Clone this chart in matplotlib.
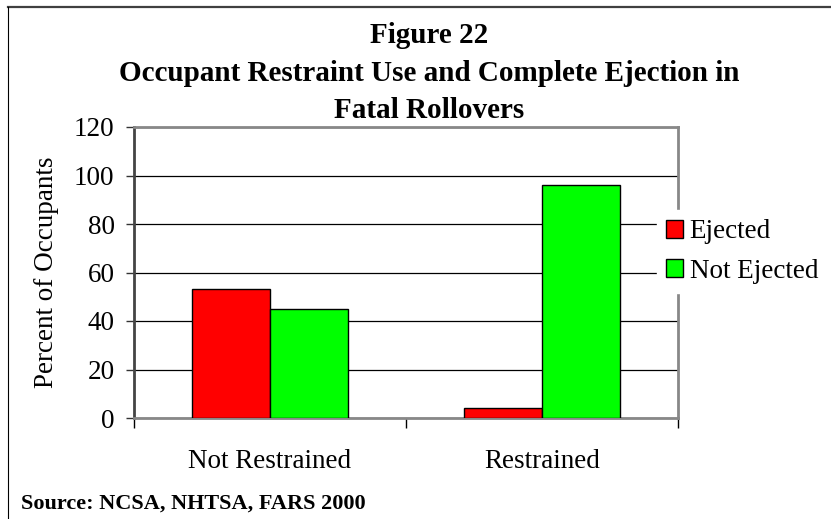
import matplotlib
matplotlib.use("Agg")
import matplotlib.pyplot as plt
from matplotlib.lines import Line2D
import numpy as np

plt.rcParams['font.family'] = ['Liberation Serif', 'DejaVu Serif']

categories = ["Not Restrained", "Restrained"]
ejected = [53, 4]
not_ejected = [45, 96]
series_names = ["Ejected", "Not Ejected"]
yticks = [0, 20, 40, 60, 80, 100, 120]

W, H = 831, 519
fig = plt.figure(figsize=(W / 100, H / 100), dpi=100)

# plot area in pixel coordinates
left, right, top, bottom = 134, 678, 127, 418
ax = fig.add_axes([left / W, 1 - bottom / H, (right - left) / W, (bottom - top) / H])

x = np.arange(len(categories))
bw = 0.285
ax.bar(x - bw / 2, ejected, bw, color='#ff0000', edgecolor='black', linewidth=1,
       label=series_names[0], zorder=3)
ax.bar(x + bw / 2, not_ejected, bw, color='#00ff00', edgecolor='black', linewidth=1,
       label=series_names[1], zorder=3)

ax.set_xlim(-0.5, len(categories) - 0.5)
ax.set_ylim(0, 120)
ax.set_yticks(yticks)
ax.yaxis.grid(True, color='black', linewidth=0.9, zorder=1)
ax.set_axisbelow(True)

ax.set_xticks(x)
ax.set_xticklabels(categories, fontsize=19.5)
ax.set_xticks(np.arange(len(categories) + 1) - 0.5, minor=True)
ax.tick_params(axis='x', which='major', length=0, pad=22)
ax.tick_params(axis='x', which='minor', length=7, width=1, direction='out', color='black')
ax.tick_params(axis='y', length=6, width=1, direction='out', pad=8, labelsize=19.5,
               color='#333333')

for s in ax.spines.values():
    s.set_color('#888888')
    s.set_linewidth(2)
ax.spines['left'].set_color('#444444')

ax.set_ylabel("Percent of Occupants", fontsize=19.5, labelpad=11)

fig.legend(loc='center left', bbox_to_anchor=(657 / W, 1 - 251.5 / H),
           fontsize=19.5, frameon=True, facecolor='white', edgecolor='white',
           framealpha=1, handlelength=0.6, handleheight=0.6, handletextpad=0.25,
           labelspacing=0.52, borderpad=0.35, borderaxespad=0, fancybox=False)

title_lines = ["Figure 22",
               "Occupant Restraint Use and Complete Ejection in",
               "Fatal Rollovers"]
for line, ypx in zip(title_lines, [43, 81, 118]):
    fig.text(429 / W, 1 - ypx / H, line, ha='center', va='baseline',
             fontsize=21, fontweight='bold')

fig.text(21 / W, 1 - 509 / H, "Source: NCSA, NHTSA, FARS 2000", ha='left', va='baseline',
         fontsize=16, fontweight='bold')

# outer frame (top and left edges visible)
fig.add_artist(Line2D([8 / W, 1], [1 - 7 / H, 1 - 7 / H], transform=fig.transFigure,
                      color='#404040', linewidth=1.6))
fig.add_artist(Line2D([8 / W, 8 / W], [1 - 7 / H, 0], transform=fig.transFigure,
                      color='black', linewidth=0.8))

fig.savefig("out.png", dpi=100)
